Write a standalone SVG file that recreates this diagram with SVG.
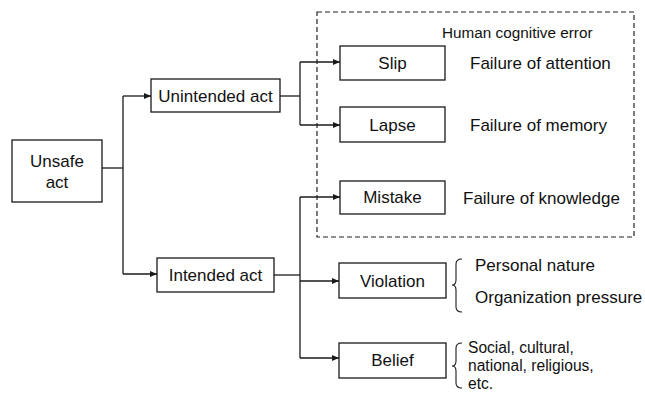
<svg xmlns="http://www.w3.org/2000/svg" width="645" height="394" viewBox="0 0 645 394">
<style>
.box{fill:#fff;stroke:#1a1a1a;stroke-width:1.3}
.t{font-family:"Liberation Sans",Arial,sans-serif;font-size:17px;fill:#111;text-anchor:middle}
.tl{font-family:"Liberation Sans",Arial,sans-serif;font-size:17px;fill:#111}
.tb{font-family:"Liberation Sans",Arial,sans-serif;font-size:15.6px;fill:#111}
.c{fill:none;stroke:#1a1a1a;stroke-width:1.3}
</style>
<defs>
<marker id="ah" markerWidth="8" markerHeight="6" refX="7" refY="3" orient="auto" markerUnits="userSpaceOnUse">
<path d="M0,0 L7,3 L0,6 Z" fill="#1a1a1a"/>
</marker>
</defs>
<rect x="317" y="12" width="317" height="225" fill="none" stroke="#222" stroke-width="1.2" stroke-dasharray="5,3"/>
<text x="442" y="38" class="tl" style="font-size:15.3px">Human cognitive error</text>
<g id="connectors">
<path class="c" d="M102,168 H123"/>
<path class="c" d="M123,96 V274"/>
<path class="c" d="M123,96 H151" marker-end="url(#ah)"/>
<path class="c" d="M123,274 H157" marker-end="url(#ah)"/>
<path class="c" d="M280,96 H300"/>
<path class="c" d="M300,62 V125"/>
<path class="c" d="M300,62 H340" marker-end="url(#ah)"/>
<path class="c" d="M300,125 H340" marker-end="url(#ah)"/>
<path class="c" d="M274,275 H300"/>
<path class="c" d="M300,197 V358"/>
<path class="c" d="M300,197 H340" marker-end="url(#ah)"/>
<path class="c" d="M300,281 H339" marker-end="url(#ah)"/>
<path class="c" d="M300,358 H339" marker-end="url(#ah)"/>
</g>
<g id="unsafe">
<rect class="box" x="12" y="140" width="90" height="62"/>
<text class="t" x="57" y="167">Unsafe</text>
<text class="t" x="57" y="188">act</text>
</g>
<g id="unintended">
<rect class="box" x="151" y="79" width="129" height="33"/>
<text class="t" x="215.5" y="102">Unintended act</text>
</g>
<g id="intended">
<rect class="box" x="157" y="258" width="117" height="34"/>
<text class="t" x="215.5" y="281">Intended act</text>
</g>
<g id="slip">
<rect class="box" x="340" y="46" width="105" height="34"/>
<text class="t" x="392.5" y="69">Slip</text>
<text class="tl" x="470" y="68.5">Failure of attention</text>
</g>
<g id="lapse">
<rect class="box" x="340" y="107" width="105" height="35"/>
<text class="t" x="392.5" y="130.5">Lapse</text>
<text class="tl" x="470" y="131">Failure of memory</text>
</g>
<g id="mistake">
<rect class="box" x="340" y="181" width="105" height="33"/>
<text class="t" x="392.5" y="203">Mistake</text>
<text class="tl" x="463" y="203.5">Failure of knowledge</text>
</g>
<g id="violation">
<rect class="box" x="339" y="263" width="107" height="35"/>
<text class="t" x="392.5" y="286.5">Violation</text>
<path class="c" d="M462,259 Q456,259 456,264 V280 Q456,285 452,285 Q456,285 456,290 V307 Q456,312 462,312" style="stroke-width:1.1"/>
<text class="tl" x="475" y="271">Personal nature</text>
<text class="tl" x="475" y="303">Organization pressure</text>
</g>
<g id="belief">
<rect class="box" x="339" y="343" width="107" height="35"/>
<text class="t" x="392.5" y="366">Belief</text>
<path class="c" d="M462,343 Q456,343 456,348 V361 Q456,366 452,366 Q456,366 456,371 V383 Q456,388 462,388" style="stroke-width:1.1"/>
<text class="tb" x="468" y="353">Social, cultural,</text>
<text class="tb" x="468" y="371">national, religious,</text>
<text class="tb" x="468" y="389">etc.</text>
</g>
</svg>
